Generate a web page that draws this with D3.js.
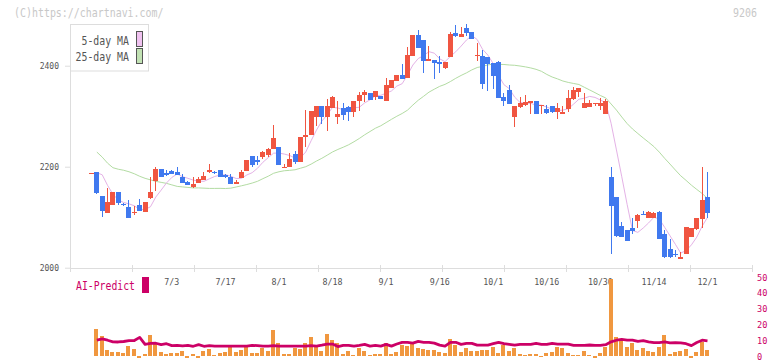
<!DOCTYPE html>
<html><head><meta charset="utf-8">
<script src="https://cdn.jsdelivr.net/npm/d3@7"></script>
<style>
html,body{margin:0;padding:0;background:#fff;}
svg{display:block;}
</style></head><body>
<svg id="chart" width="772" height="361"></svg>
<script>
const dates = ["6/12","6/13","6/16","6/17","6/18","6/19","6/20","6/23","6/24","6/25","6/26","6/27","6/30",
"7/1","7/2","7/3","7/4","7/7","7/8","7/9","7/10","7/11","7/14","7/15","7/16","7/17","7/18","7/22","7/23","7/24","7/25","7/28","7/29","7/30","7/31",
"8/1","8/4","8/5","8/6","8/7","8/8","8/12","8/13","8/14","8/15","8/18","8/19","8/20","8/21","8/22","8/25","8/26","8/27","8/28","8/29",
"9/1","9/2","9/3","9/4","9/5","9/8","9/9","9/10","9/11","9/12","9/16","9/17","9/18","9/19","9/22","9/24","9/25","9/26","9/29","9/30",
"10/1","10/2","10/3","10/6","10/7","10/8","10/9","10/10","10/14","10/15","10/16","10/17","10/20","10/21","10/22","10/23","10/24","10/27","10/28","10/29","10/30","10/31",
"11/4","11/5","11/6","11/7","11/10","11/11","11/12","11/13","11/14","11/17","11/18","11/19","11/20","11/21","11/25","11/26","11/27","11/28",
"12/1"];

const open = [2186,2190,2142,2108,2125,2150,2127,2120,2108,2124,2111,2139,2172,2195,2188,2192,2189,2179,2170,2160,
2168,2174,2190,2189,2193,2183,2179,2166,2177,2192,2221,2213,2220,2223,2235,2239,2198,2199,2225,2209,
2259,2263,2299,2320,2299,2317,2299,2317,2319,2309,2330,2341,2346,2338,2340,2331,2356,2370,2381,2375,
2420,2460,2451,2410,2411,2408,2396,2418,2464,2457,2474,2466,2420,2419,2417,2406,2407,2338,2352,2298,
2318,2322,2326,2330,2320,2314,2320,2308,2304,2314,2334,2348,2316,2318,2324,2320,2304,2179,2140,2082,
2074,2078,2092,2107,2098,2098,2110,2066,2037,2028,2018,2027,2060,2076,2096,2140];
const high = [2187,2190,2142,2158,2150,2150,2129,2134,2122,2137,2130,2180,2200,2195,2193,2193,2200,2185,2171,2179,
2179,2189,2205,2191,2194,2185,2185,2174,2193,2213,2221,2221,2231,2238,2282,2239,2205,2228,2231,2259,
2312,2311,2320,2320,2335,2340,2330,2326,2321,2330,2348,2352,2346,2350,2340,2375,2371,2381,2404,2437,
2460,2470,2451,2439,2411,2419,2407,2466,2480,2476,2482,2467,2445,2431,2417,2406,2409,2346,2362,2320,
2338,2342,2331,2330,2322,2322,2320,2326,2320,2352,2358,2356,2346,2332,2326,2336,2334,2199,2140,2090,
2075,2098,2106,2112,2112,2110,2113,2074,2056,2035,2031,2080,2078,2098,2199,2189];
const low = [2186,2145,2101,2108,2125,2124,2123,2099,2104,2113,2111,2136,2152,2180,2182,2185,2184,2168,2163,2158,
2168,2174,2187,2185,2180,2178,2166,2166,2177,2192,2200,2204,2215,2220,2235,2204,2198,2199,2206,2209,
2240,2263,2280,2284,2271,2317,2284,2292,2291,2299,2311,2329,2333,2332,2334,2331,2356,2370,2374,2375,
2420,2435,2385,2410,2374,2386,2393,2418,2457,2456,2459,2452,2410,2354,2350,2354,2336,2320,2324,2278,
2316,2320,2304,2304,2304,2304,2306,2294,2304,2308,2332,2338,2316,2318,2320,2312,2304,2027,2060,2060,
2052,2066,2078,2104,2098,2098,2056,2020,2020,2021,2018,2027,2060,2074,2078,2098];
const close = [2187,2148,2113,2130,2150,2129,2124,2099,2111,2113,2130,2150,2195,2180,2184,2185,2184,2168,2164,2166,
2176,2181,2193,2187,2180,2180,2166,2170,2189,2213,2203,2210,2229,2235,2257,2204,2200,2215,2209,2259,
2263,2311,2320,2299,2320,2338,2304,2303,2309,2330,2342,2348,2333,2350,2334,2362,2371,2381,2374,2421,
2460,2435,2410,2413,2406,2404,2407,2462,2459,2462,2464,2452,2422,2363,2404,2379,2336,2330,2324,2320,
2326,2328,2330,2304,2322,2306,2308,2316,2308,2336,2352,2356,2326,2326,2326,2326,2330,2122,2062,2060,
2052,2072,2104,2105,2110,2108,2056,2021,2021,2026,2021,2080,2078,2098,2134,2108];

const ma5 = [null,2188,2184,2163,2145.6,2134,2129.2,2126.4,2122.6,2115.2,2115.4,2120.6,2139.8,2153.6,2167.8,2178.8,2185.6,2180.2,2177,2173.4,
2171.6,2171,2176,2180.6,2183.4,2184.2,2181.2,2176.6,2177,2183.6,2188.2,2197,2208.8,2218,2226.8,2227,2225,2222.2,2217,2217.4,
2229.2,2251.4,2272.4,2290.4,2302.6,2317.6,2316.2,2312.8,2314.8,2316.8,2317.6,2326.4,2332.4,2340.6,2341.4,2345.4,2350,2359.6,2364.4,2381.8,
2401.4,2414.2,2420,2427.8,2424.8,2413.6,2408,2418.4,2427.6,2438.8,2450.8,2459.8,2451.8,2432.6,2421,2404,2380.8,2362.4,2354.6,2337.8,
2327.2,2325.6,2325.6,2321.6,2322,2318,2314,2311.2,2312,2314.8,2324,2333.6,2335.6,2339.2,2337.2,2332,2326.8,2286,2233.2,2180,
2125.2,2073.6,2070,2078.6,2088.6,2099.8,2096.6,2080,2063.2,2046.4,2029,2033.8,2045.2,2060.6,2082.2,2099.6];
const ma25 = [null,2229,2219,2207,2198,2195,2193,2190,2186,2181,2177,2174,2171,2169,2167,2164,2161,2160,2159,2158,
2158,2157.5,2157,2157,2157.1,2156.8,2157.5,2159.8,2162.2,2164.7,2167.6,2171.1,2176.3,2181.2,2187,2190,2192,2192.8,2193.9,2196.9,
2200,2205.1,2211.2,2216.6,2222.8,2229.2,2234.2,2238.6,2243.4,2249.4,2255.9,2263.2,2269.7,2276.2,2281,2287.4,2293.8,2299.9,2305.4,2312,
2322.2,2331.6,2339.4,2347.6,2353.5,2359.1,2363,2368.6,2375,2380.7,2385.8,2391.7,2396.4,2398.6,2401.6,2403,2402.6,2402.4,2401.4,2400.8,
2399.4,2397.7,2395.6,2392.8,2388.9,2382.7,2377.6,2373.9,2369.7,2366.9,2364.8,2362.8,2357.3,2352,2346.6,2341,2336.2,2324.2,2312.1,2298.4,
2285.3,2274.7,2265.7,2256.9,2248.5,2239.8,2228.9,2216.6,2205.2,2193.4,2182,2172.9,2163.4,2155,2146.9,2137.1];

const volume = [null,18.1,13.7,4.9,3.6,3.6,3.0,7.4,5.5,0.3,2.3,14.3,9.3,3.6,2.3,3.0,3.0,4.2,0,2.3,
0,4.2,5.5,1.7,3.0,3.6,6.7,3.6,4.9,6.7,3.0,3.0,6.1,4.2,17.4,9.3,2.3,2.3,6.1,5.5,
9.3,13.0,6.7,4.2,14.9,11.1,9.3,2.3,4.2,1.7,6.1,4.2,1.7,2.3,2.3,9.3,2.3,3.6,8.0,7.4,
8.6,6.1,5.5,4.9,4.9,3.6,3.0,11.8,8.0,3.6,6.1,4.2,4.2,4.9,4.9,6.7,3.0,8.3,4.2,6.1,
2.3,1.7,2.3,2.3,0.5,3.0,3.6,7.0,6.2,3.0,1.5,1.6,4.3,1.7,0,3.0,7.0,49.6,13.0,10.8,
6.8,9.3,4.9,6.4,4.5,3.6,6.8,14.3,2.4,3.6,4.2,5.5,0,3.6,10.2,4.9];
const aiPredict = [null,11.0,11.8,11.0,10.0,9.9,10.2,10.8,10.8,12.8,8.4,9.0,9.1,8.2,8.8,7.6,7.8,7.4,7.8,7.2,
8.2,7.2,7.6,7.3,7.3,7.3,7.3,7.3,7.3,7.3,7.8,7.6,7.3,7.3,7.6,7.3,7.3,7.3,7.3,7.3,
7.3,7.6,7.3,7.9,8.6,8.6,7.0,7.8,7.8,7.3,7.8,8.4,7.3,7.8,7.3,8.4,7.3,8.6,9.7,9.7,
9.2,10.3,9.7,9.7,9.2,7.9,7.3,9.7,9.7,8.4,9.0,9.0,7.9,7.9,7.9,8.8,9.7,8.8,8.4,7.9,
8.4,8.4,8.4,9.0,8.4,8.4,9.0,8.6,8.6,8.6,7.8,7.8,7.8,8.0,7.8,7.8,8.2,10.0,11.0,11.5,
11.1,11.1,10.3,10.7,9.9,9.5,9.5,9.9,9.3,9.5,9.3,8.8,7.6,9.6,11.0,10.6];

const priceTicks = [2000, 2200, 2400];
const dateLabels = ["7/3","7/17","8/1","8/18","9/1","9/16","10/1","10/16","10/30","11/14","12/1"];
const rightTicks = [0, 10, 20, 30, 40, 50];
const legendLabels = ["5-day MA", "25-day MA"];
const volBase = 1.25;

const FONT = "'DejaVu Sans Mono', monospace";
const C = {
  up: "#f05541", down: "#4079ef", ma5: "#e4b2e6", ma25: "#b3dca3",
  ma5sw: "#f0c2f0", ma25sw: "#c2e2b4", vol: "#f0973f", ai: "#cc0066",
  axis: "#dddddd", text: "#555555", wm: "#c8c8c8"
};

const svg = d3.select("#chart");
const x = d3.scalePoint().domain(dates).range([91.5, 707.5]);
const y = d3.scaleLinear().domain([2000, 2400]).range([267.7, 65.7]);
const yR = d3.scaleLinear().domain([0, 50]).range([357.7, 278.3]);
const gridX = d3.scaleLinear().domain([0, 11]).range([70, 752]);

// watermark
svg.append("text").attr("x", 14).attr("y", 16.5).attr("font-family", FONT).attr("font-size", 11.5)
  .attr("fill", C.wm).attr("textLength", 149.5).attr("lengthAdjust", "spacingAndGlyphs")
  .text("(C)https://chartnavi.com/");
svg.append("text").attr("x", 733).attr("y", 16.5).attr("font-family", FONT).attr("font-size", 11.5)
  .attr("fill", C.wm).attr("textLength", 24).attr("lengthAdjust", "spacingAndGlyphs")
  .text("9206");

// axes lines
svg.append("line").attr("x1", 70.5).attr("x2", 70.5).attr("y1", 24).attr("y2", 268)
  .attr("stroke", C.axis).attr("shape-rendering", "crispEdges");
svg.append("line").attr("x1", 70).attr("x2", 753).attr("y1", 268.5).attr("y2", 268.5)
  .attr("stroke", C.axis).attr("shape-rendering", "crispEdges");
svg.append("g").selectAll("line").data(d3.range(12)).join("line")
  .attr("x1", d => Math.round(gridX(d)) + 0.5).attr("x2", d => Math.round(gridX(d)) + 0.5)
  .attr("y1", 265).attr("y2", 272).attr("stroke", C.axis).attr("shape-rendering", "crispEdges");

// price axis
const gy = svg.append("g").attr("transform", "translate(70,0)")
  .call(d3.axisLeft(y).tickValues(priceTicks).tickSize(5).tickPadding(6).tickFormat(d3.format("d")));
gy.select(".domain").remove();
gy.attr("font-family", FONT).attr("font-size", 8);
gy.selectAll("line").attr("stroke", C.axis);
gy.selectAll("text").attr("fill", C.text);

// date labels
const gx = svg.append("g").attr("transform", "translate(-0.5,279.5)")
  .call(d3.axisBottom(x).tickValues(dateLabels).tickSize(0).tickPadding(0));
gx.select(".domain").remove();
gx.attr("font-family", FONT).attr("font-size", 8.3);
gx.selectAll("text").attr("fill", C.text);

// MA lines
const lineOf = (arr, sc) => d3.line().defined(d => d != null).x((d, i) => x(dates[i])).y(d => sc(d))(arr);
svg.append("path").attr("d", lineOf(ma25, y)).attr("fill", "none").attr("stroke", C.ma25).attr("stroke-width", 1);
svg.append("path").attr("d", lineOf(ma5, y)).attr("fill", "none").attr("stroke", C.ma5).attr("stroke-width", 1);

// candles
const cg = svg.append("g").attr("shape-rendering", "crispEdges");
const idx = d3.range(dates.length);
const col = i => close[i] >= open[i] ? C.up : C.down;
cg.selectAll("rect.w").data(idx).join("rect").attr("class", "w")
  .attr("x", i => Math.round(x(dates[i]) - 2.5) + 2).attr("width", 1)
  .attr("y", i => Math.round(y(high[i])))
  .attr("height", i => Math.max(1, Math.round(y(low[i])) - Math.round(y(high[i]))))
  .attr("fill", col);
cg.selectAll("rect.b").data(idx).join("rect").attr("class", "b")
  .attr("x", i => Math.round(x(dates[i]) - 2.5)).attr("width", 5)
  .attr("y", i => Math.round(y(Math.max(open[i], close[i]))))
  .attr("height", i => Math.max(1, Math.round(y(Math.min(open[i], close[i]))) - Math.round(y(Math.max(open[i], close[i])))))
  .attr("fill", col);

// legend
svg.append("rect").attr("x", 70.5).attr("y", 24.5).attr("width", 78).attr("height", 46.5)
  .attr("fill", "#fff").attr("stroke", C.axis);
legendLabels.forEach((t, k) => {
  svg.append("text").attr("x", 129.5 - 6 * t.length).attr("y", 45 + 16 * k)
    .attr("font-family", FONT).attr("font-size", 11.5).attr("fill", C.text)
    .attr("textLength", 6 * t.length - 0.5).attr("lengthAdjust", "spacingAndGlyphs").text(t);
  svg.append("rect").attr("x", 136.5).attr("y", 31.5 + 16.8 * k).attr("width", 6).attr("height", 15)
    .attr("fill", k === 0 ? C.ma5sw : C.ma25sw).attr("stroke", "#555").attr("shape-rendering", "crispEdges");
});

// volume bars
svg.append("g").attr("shape-rendering", "crispEdges").selectAll("rect")
  .data(idx.filter(i => volume[i] != null)).join("rect")
  .attr("x", i => Math.round(x(dates[i]) - 2.5)).attr("width", 4)
  .attr("y", i => Math.round(Math.min(yR(volume[i]), yR(volBase))))
  .attr("height", i => Math.max(1, Math.round(Math.abs(yR(volume[i]) - yR(volBase)))))
  .attr("fill", C.vol);

// AI predict line
svg.append("path").attr("d", lineOf(aiPredict, yR)).attr("fill", "none")
  .attr("stroke", C.ai).attr("stroke-width", 2.8).attr("stroke-linejoin", "round");

// right axis
const gr = svg.append("g").attr("transform", "translate(757,-1)")
  .call(d3.axisRight(yR).tickValues(rightTicks).tickSize(0).tickPadding(0));
gr.select(".domain").remove();
gr.attr("font-family", FONT).attr("font-size", 8.6);
gr.selectAll("text").attr("fill", C.ai);

// AI-Predict label
svg.append("text").attr("x", 76).attr("y", 290).attr("font-family", FONT).attr("font-size", 11.5)
  .attr("fill", C.ai).attr("textLength", 59).attr("lengthAdjust", "spacingAndGlyphs").text("AI-Predict");
svg.append("rect").attr("x", 142).attr("y", 277).attr("width", 7).attr("height", 16).attr("fill", C.ai);
</script>
</body></html>
